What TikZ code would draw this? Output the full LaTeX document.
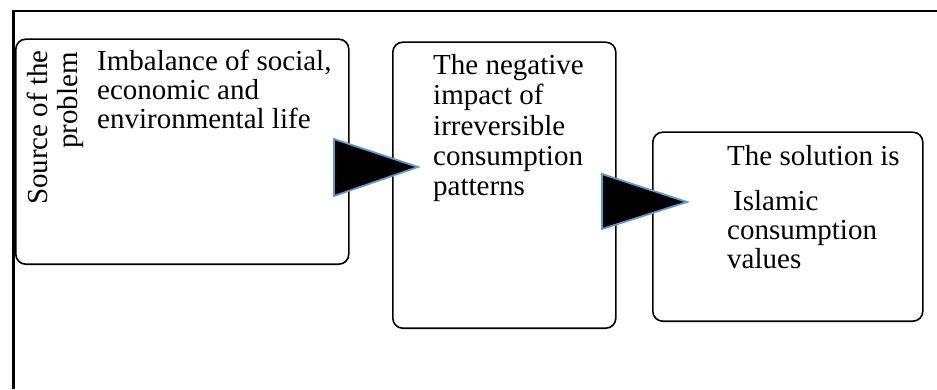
\documentclass[tikz,border=0pt]{standalone}
\usepackage{fontspec}
\setmainfont{Liberation Serif}
\definecolor{triedge}{HTML}{5B9BD5}
\tikzset{
  x=1pt,y=1pt,
  boxr/.style={draw=black,line width=1.6pt,rounded corners=10pt},
  txt/.style={anchor=base west,inner sep=0pt,font=\fontsize{29}{30}\selectfont},
  tri/.style={fill=black,draw=triedge,line width=1.8pt,line join=miter},
}
\begin{document}
\begin{tikzpicture}
\useasboundingbox (0,0) rectangle (937,389);
% outer frame (left and top edges)
\draw[line width=2.2pt] (13.5,0) |- (937,378);
% boxes
\node[boxr,minimum width=333pt,minimum height=225pt,anchor=south west] (b1) at (15,124) {};
\node[boxr,minimum width=223pt,minimum height=286pt,anchor=south west] (b2) at (392,60) {};
\node[boxr,minimum width=270pt,minimum height=189pt,anchor=south west] (b3) at (652,67) {};
% box 1 texts
\node[txt,rotate=90,anchor=base east] (s1) at (47,339) {Source of the};
\node[txt,rotate=90,anchor=base east] (s2) at (77,337) {problem};
\node[txt] (a1) at (97,318) {Imbalance of social,};
\node[txt] (a2) at (97,289) {economic and};
\node[txt] (a3) at (97,260) {environmental life};
% box 2 texts
\node[txt] (n1) at (433,314) {The negative};
\node[txt] (n2) at (433,284) {impact of};
\node[txt] (n3) at (433,254) {irreversible};
\node[txt] (n4) at (433,224) {consumption};
\node[txt] (n5) at (433,194) {patterns};
% box 3 texts
\node[txt] (c1) at (727,224) {The solution is};
\node[txt] (c2) at (733,179) {Islamic};
\node[txt] (c3) at (727,150) {consumption};
\node[txt] (c4) at (727,121) {values};
% block arrows
\draw[tri] (334,250) -- (334,193) -- (418,222) -- cycle;
\draw[tri] (602,215) -- (602,160) -- (687,187) -- cycle;
\end{tikzpicture}
\end{document}
